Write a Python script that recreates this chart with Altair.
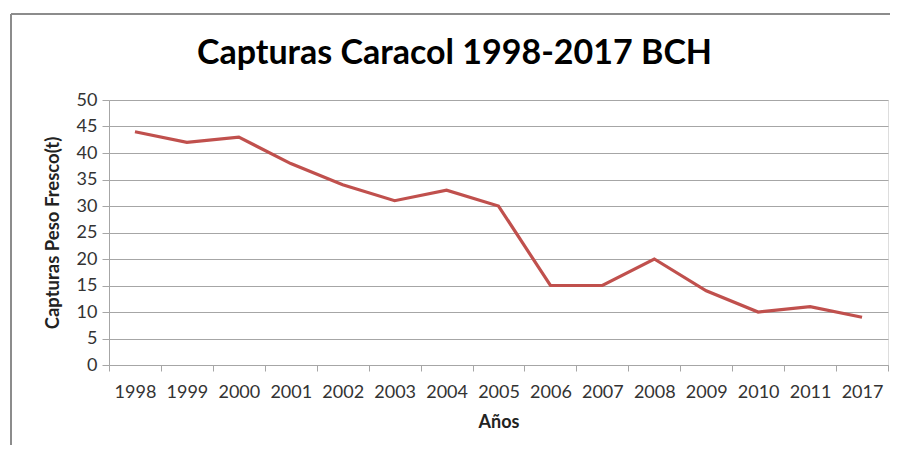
import altair as alt
import pandas as pd

years = ["1998", "1999", "2000", "2001", "2002", "2003", "2004", "2005",
         "2006", "2007", "2008", "2009", "2010", "2011", "2017"]
capturas = [44, 42, 43, 38, 34, 31, 33, 30, 15, 15, 20, 14, 10, 11, 9]
title_text = ["Capturas Caracol 1998-2017 BCH"]

df = pd.DataFrame({"year": years, "value": capturas})
tdf = pd.DataFrame({"t": title_text})

W, H = 779, 265
font = "Lato"

x = alt.X("year:O", sort=years,
          scale=alt.Scale(type="band", paddingInner=0, paddingOuter=0),
          axis=alt.Axis(title="Años", labelAngle=0, tickBand="extent",
                        labelFontSize=18, labelColor="#333333", labelFont=font,
                        labelPadding=12,
                        titleFont=font, titleFontSize=18, titleFontWeight="bold",
                        titleColor="#222222", titlePadding=12,
                        domainColor="#a6a6a6", tickColor="#a6a6a6",
                        tickSize=6, grid=False))
y = alt.Y("value:Q",
          scale=alt.Scale(domain=[0, 50], nice=False),
          axis=alt.Axis(title="Capturas  Peso Fresco(t)", values=list(range(0, 51, 5)),
                        labelFontSize=18, labelColor="#333333", labelFont=font,
                        labelPadding=5,
                        titleFont=font, titleFontSize=18.5, titleFontWeight="bold",
                        titleColor="#222222", titlePadding=14,
                        domainColor="#a6a6a6", tickColor="#a6a6a6", tickSize=7,
                        gridColor="#a6a6a6", gridWidth=1.2))

line = alt.Chart(df).mark_line(color="#C0504D", strokeWidth=3.2).encode(x=x, y=y)

title = alt.Chart(tdf).mark_text(
    font=font, fontSize=34, fontWeight="bold", color="#000000",
    align="center", baseline="alphabetic", clip=False
).encode(text="t:N", x=alt.value(W / 2 - 44), y=alt.value(-36))

# decorative chart-area frame (left and top edges)
frame_left = alt.Chart(tdf).mark_rule(color="#8c8c8c", strokeWidth=2, clip=False).encode(
    x=alt.value(-98), y=alt.value(-86), y2=alt.value(H + 120))
frame_top = alt.Chart(tdf).mark_rule(color="#8c8c8c", strokeWidth=2, clip=False).encode(
    x=alt.value(-98), x2=alt.value(W + 20), y=alt.value(-86))

chart = alt.layer(frame_left, frame_top, title, line).properties(
    width=W, height=H,
    padding={"left": 101, "top": 92, "right": 2, "bottom": 80},
    autosize=alt.AutoSizeParams(type="none"),
).configure_view(stroke=None).configure(background="white")

chart.save("out.html", embed_options={"renderer": "svg", "actions": False})
